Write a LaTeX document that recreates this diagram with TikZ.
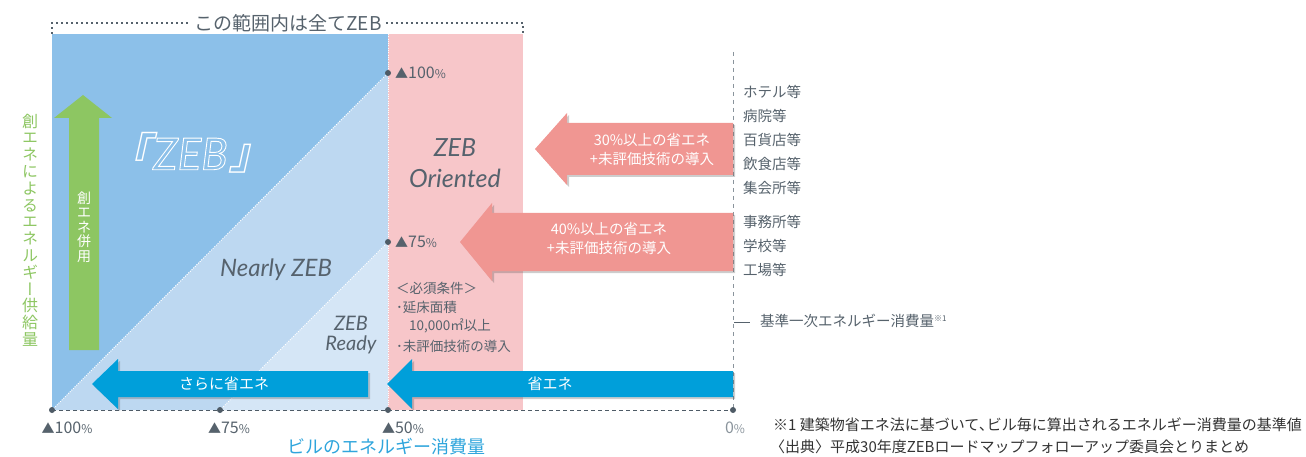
\documentclass[tikz,border=0pt]{standalone}
\usepackage{fontspec}
\setmainfont{Noto Sans CJK JP}
\newfontfamily\latf{Lato}
\newfontfamily\cjkslant{Noto Sans CJK JP}[FakeSlant=0.22]
\usetikzlibrary{shadows,calc}
\definecolor{zebblue}{HTML}{8CC0E9}
\definecolor{nearblue}{HTML}{BDD8F1}
\definecolor{readyblue}{HTML}{D5E6F6}
\definecolor{orpink}{HTML}{F7C6C9}
\definecolor{arrpink}{HTML}{F09692}
\definecolor{arrblue}{HTML}{009FDA}
\definecolor{crgreen}{HTML}{8DC662}
\definecolor{txtgray}{HTML}{56626C}
\definecolor{slate}{HTML}{56626D}
\definecolor{dotgray}{HTML}{4E5B66}
\definecolor{axblue}{HTML}{2FA5DC}
\definecolor{lightgray}{HTML}{8A949C}
\newcommand{\pctsign}{{\fontsize{12}{12}\selectfont\%}}
\newcommand{\tri}{{\fontsize{13}{13}\selectfont▲}}
\newcommand{\outlineon}{\special{pdf:literal direct 1 Tr 0.9 w}}
\newcommand{\outlineoff}{\special{pdf:literal direct 0 Tr 0.4 w}}
\begin{document}
\begin{tikzpicture}[x=1pt,y=-1pt,
  lbl/.style={inner sep=0pt, anchor=west, text=txtgray, font=\fontsize{14.5}{16}\selectfont},
  foot/.style={inner sep=0pt, anchor=west, text=black!80, font=\fontsize{15}{16}\selectfont},
  cond/.style={inner sep=0pt, anchor=west, text=txtgray, font=\fontsize{13.5}{15}\selectfont},
  pct/.style={inner sep=0pt, text=txtgray, font=\fontsize{16}{16}\selectfont},
  kind/.style={inner sep=0pt, text=slate, font=\latf\itshape\fontsize{#1}{#1}\selectfont},
  zebstyle/.style={inner sep=0pt, font=\latf\itshape\fontsize{44}{44}\selectfont},
  arrtext/.style={inner sep=0pt, text=white, font=\fontsize{14.5}{16}\selectfont},
  shad/.style={drop shadow={shadow xshift=2pt, shadow yshift=-2pt, fill=black!70, opacity=0.28}},
  pinkarrow/.style={fill=arrpink, shad},
  bluearrow/.style={fill=arrblue, shad},
  wdots/.style={white, line width=1pt, dash pattern=on 1pt off 1.3pt},
  brk/.style={txtgray, line width=1.1pt, dash pattern=on 2pt off 3pt},
  pdot/.style={fill=dotgray},
]
\useasboundingbox (0,0) rectangle (1306,457);

% regions
\fill[zebblue] (52,34) rectangle (388,410);
\fill[nearblue] (52,410) -- (388,73) -- (388,410) -- cycle;
\fill[readyblue] (220,410) -- (388,242) -- (388,410) -- cycle;
\fill[orpink] (388,34) rectangle (523,410);

% white dotted boundaries
\draw[wdots] (52,410) -- (388,73);
\draw[wdots] (220,410) -- (388,242);
\draw[wdots] (388,34) -- (388,410);

% bracket on top
\node[inner sep=4pt, text=txtgray, font=\fontsize{19}{19}\selectfont] (title) at (288,23) {この範囲内は全てZEB};
\coordinate (bl) at (52,34);
\coordinate (br) at (523,34);
\draw[brk] (bl) |- (title.west);
\draw[brk] (title.east) -| (br);

% reference vertical line
\coordinate (vtop) at (733,52);
\coordinate (vbot) at (733,410);
\draw[lightgray, line width=1pt, dash pattern=on 4pt off 4pt] (vtop) -- (vbot);

% green arrow
\fill[crgreen] (69,350) -- (69,118) -- (54,118) -- (83,95) -- (112,118) -- (99,118) -- (99,350) -- cycle;
\node[inner sep=0pt, text=white, align=center, font=\fontsize{14}{14.5}\selectfont] (sou) at (84,227) {創\\エ\\ネ\\併\\用};

% pink arrows
\fill[pinkarrow] (733,123) -- (567,123) -- (567,113) -- (535,149) -- (567,185) -- (567,175) -- (733,175) -- cycle;
\fill[pinkarrow] (733,213) -- (492,213) -- (492,203) -- (460,242) -- (492,281) -- (492,271) -- (733,271) -- cycle;
\node[arrtext] (p1a) at (652,140) {30\%以上の省エネ};
\node[arrtext] (p1b) at (652,159) {+未評価技術の導入};
\node[arrtext] (p2a) at (609,229) {40\%以上の省エネ};
\node[arrtext] (p2b) at (609,248) {+未評価技術の導入};

% blue arrows
\fill[bluearrow] (368,371) -- (118,371) -- (118,359) -- (92,384) -- (118,409) -- (118,397) -- (368,397) -- cycle;
\fill[bluearrow] (733,371) -- (412,371) -- (412,359) -- (387,384) -- (412,409) -- (412,397) -- (733,397) -- cycle;
\node[arrtext, font=\fontsize{15}{16}\selectfont] (b1) at (224,384) {さらに省エネ};
\node[arrtext, font=\fontsize{15}{16}\selectfont] (b2) at (550,384) {省エネ};

% ZEB title (outlined letters)
\node[zebstyle, text=white] (zeb) at (190,153) {{\cjkslant『}\kern2pt\outlineon ZEB\outlineoff\kern1pt{\cjkslant』}};

% category labels
\node[kind=24] (nearly) at (276,270) {Nearly ZEB};
\node[kind=20] (ready1) at (351,323) {ZEB};
\node[kind=20] (ready2) at (351,345) {Ready};
\node[kind=25] (ori1) at (455,148) {ZEB};
\node[kind=25] (ori2) at (455,178) {Oriented};

% conditions
\node[cond] (c1) at (396,288) {＜必須条件＞};
\node[cond] (c2) at (396,307) {･延床面積};
\node[cond] (c3) at (409,326) {10,000㎡以上};
\node[cond] (c4) at (396,346) {･未評価技術の導入};

% percent labels on the 50% line
\node[pct, anchor=west] (l100) at (395,73) {\tri 100\pctsign};
\node[pct, anchor=west] (l75) at (395,242) {\tri 75\pctsign};
\fill[pdot] (388,73) circle[radius=3pt];
\fill[pdot] (388,242) circle[radius=3pt];

% baseline
\coordinate (a100) at (52,410);
\coordinate (a75) at (220,410);
\coordinate (a50) at (388,410);
\coordinate (a0) at (733,410);
\draw[dotgray, line width=1pt, dash pattern=on 4pt off 3pt] (a100) -- (a0);
\foreach \p in {a100,a75,a50,a0} \fill[pdot] (\p) circle[radius=3pt];

\node[pct] (x100) at (67,428) {\tri 100\pctsign};
\node[pct] (x75) at (229,428) {\tri 75\pctsign};
\node[pct] (x50) at (403,428) {\tri 50\pctsign};
\node[pct, text=lightgray] (x0) at (735,428) {0\pctsign};
\node[inner sep=0pt, text=axblue, font=\fontsize{18}{18}\selectfont] (xlab) at (386,447) {ビルのエネルギー消費量};

% y label
\node[inner sep=0pt, text=crgreen, align=center, font=\fontsize{16}{16.8}\selectfont\addfontfeatures{RawFeature=+vert}] (ylab) at (30,230)
  {創\\エ\\ネ\\に\\よ\\る\\エ\\ネ\\ル\\ギ\\ー\\供\\給\\量};

% right labels
\node[lbl] (h1) at (743,92) {ホテル等};
\node[lbl] (h2) at (743,116) {病院等};
\node[lbl] (h3) at (743,140) {百貨店等};
\node[lbl] (h4) at (743,164) {飲食店等};
\node[lbl] (h5) at (743,188) {集会所等};
\node[lbl] (o1) at (743,222) {事務所等};
\node[lbl] (o2) at (743,246) {学校等};
\node[lbl] (o3) at (743,270) {工場等};
\node[lbl] (kijun) at (760,321) {基準一次エネルギー消費量\raisebox{5pt}{\fontsize{8}{8}\selectfont ※1}};
\coordinate (k0) at (734,322);
\draw[txtgray, line width=0.8pt] (k0) -- ++(16,0);

% footnotes
\node[foot] (f1) at (773,425) {※1 建築物省エネ法に基づいて､ビル毎に算出されるエネルギー消費量の基準値};
\node[foot] (f2) at (770,447) {〈出典〉平成30年度ZEBロードマップフォローアップ委員会とりまとめ};
\end{tikzpicture}
\end{document}
